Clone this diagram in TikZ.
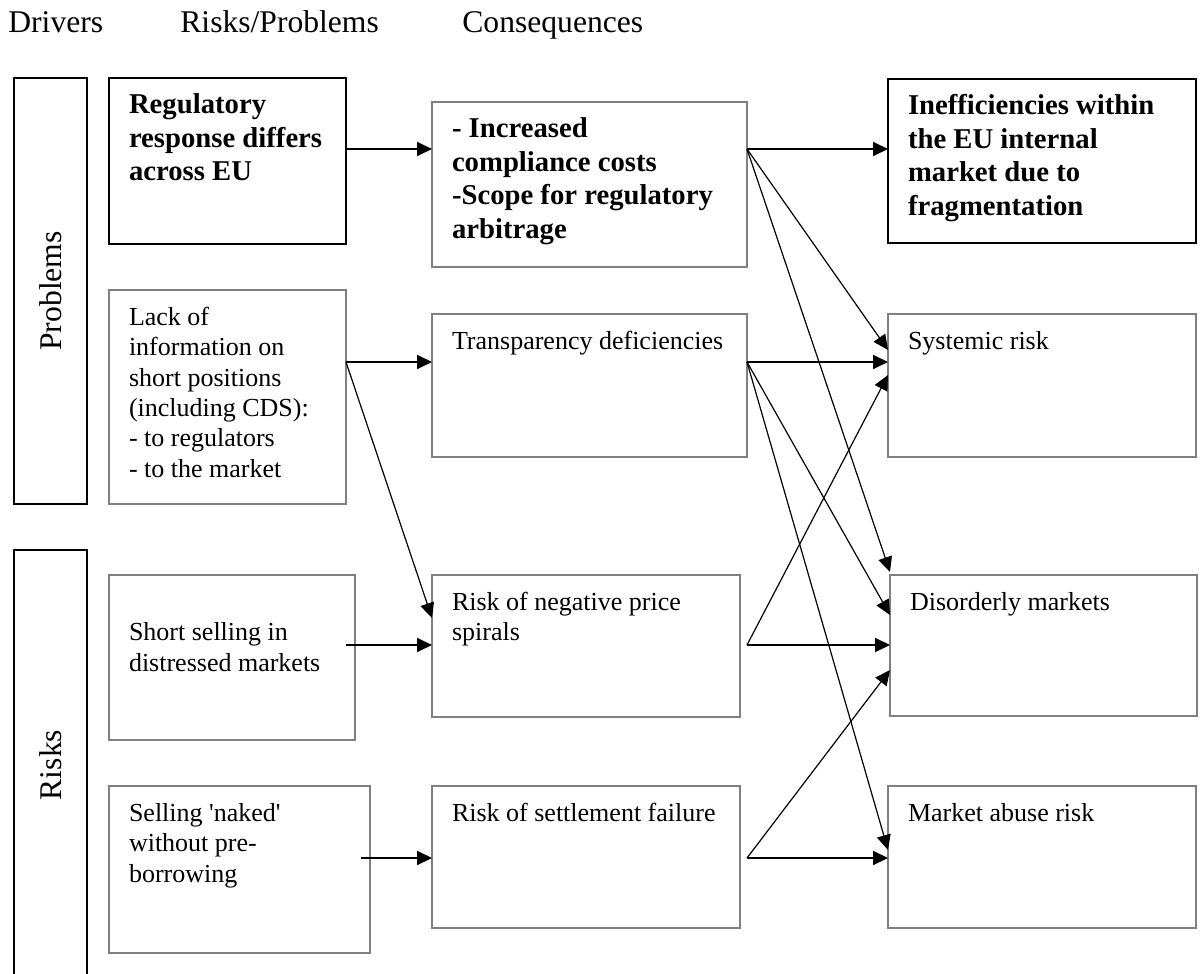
\documentclass[tikz,border=0pt]{standalone}
\usepackage{fontspec}
\setmainfont{Liberation Serif}
\usetikzlibrary{arrows.meta}
\definecolor{boxgray}{RGB}{128,128,128}
\newcommand{\bodyfont}{\fontsize{13}{15.2}\selectfont}
\newcommand{\boldfont}{\fontsize{14.35}{16.85}\selectfont\bfseries}
\newcommand{\headfont}{\fontsize{15.8}{19}\selectfont}
\newcommand{\boxtext}[3]{\parbox[t][#2][t]{#1}{\begin{tabular}[t]{@{}l@{}}#3\end{tabular}}}
\tikzset{
  cell/.style={draw=boxgray, line width=1pt, anchor=north west, outer sep=0pt,
    inner xsep=10pt, inner ysep=7pt, font=\bodyfont},
  boldcell/.style={cell, inner ysep=6pt, font=\boldfont},
  keycell/.style={boldcell, draw=black, line width=1.2pt},
  bar/.style={draw, line width=1.2pt, rotate=90, minimum height=36.5pt, inner sep=0pt, font=\headfont},
  head/.style={anchor=base west, inner sep=0pt, font=\headfont},
  link/.style={-{Triangle[length=7.5pt,width=7pt]}, line width=0.6pt},
  flow/.style={link, line width=1pt}
}

\begin{document}
\begin{tikzpicture}[x=0.5pt,y=-0.5pt]
\useasboundingbox (0,0) rectangle (1201,974);
\clip (0,0) rectangle (1201,974);
% column heads
\node[head] (hd) at (8,33) {Drivers};
\node[head] (hr) at (180,33) {Risks/Problems};
\node[head] (hc) at (462,33) {Consequences};
% side bars
\node[bar, minimum width=213pt] (pb) at (50.5,291) {Problems};
\node[bar, minimum width=215pt] (rb) at (50.5,765) {Risks};
% first row
\node[keycell] (d1) at (109,78) {\boxtext{98.5pt}{71pt}{Regulatory\\response differs\\across EU}};
\node[boldcell] (r1) at (432,102) {\boxtext{137.5pt}{70.5pt}{- Increased\\compliance costs\\-Scope for regulatory\\arbitrage}};
\node[keycell] (c1) at (888,79) {\boxtext{134pt}{70pt}{Inefficiencies within\\the EU internal\\market due to\\fragmentation}};
% second row
\node[cell] (d2) at (109,290) {\boxtext{98.5pt}{93pt}{Lack of\\information on\\short positions\\(including CDS):\\- to regulators\\- to the market}};
\node[cell] (r2) at (432,314) {\boxtext{137.5pt}{57.5pt}{Transparency deficiencies}};
\node[cell] (c2) at (888,314) {\boxtext{134pt}{57.5pt}{Systemic risk}};
% third row
\node[cell] (d3) at (109,575) {\boxtext{103pt}{68.5pt}{\\Short selling in\\distressed markets}};
\node[cell] (r3) at (432,575) {\boxtext{134pt}{57pt}{Risk of negative price\\spirals}};
\node[cell] (c3) at (890,575) {\boxtext{133.5pt}{56.5pt}{Disorderly markets}};
% fourth row
\node[cell] (d4) at (109,786) {\boxtext{110.5pt}{69.5pt}{Selling \textquotesingle naked\textquotesingle\\without pre-\\borrowing}};
\node[cell] (r4) at (432,786) {\boxtext{134pt}{57pt}{Risk of settlement failure}};
\node[cell] (c4) at (888,786) {\boxtext{134pt}{57pt}{Market abuse risk}};
% drivers to risks/problems
\draw[flow] ([yshift=-35.5pt]d1.north east) -- ([yshift=-23.5pt]r1.north west);
\draw[flow] ([yshift=-36pt]d2.north east) -- ([yshift=-24pt]r2.north west);
\draw[link] ([yshift=-36pt]d2.north east) -- ([yshift=-21.5pt]r3.north west);
\draw[flow] ([xshift=-4.5pt,yshift=-35pt]d3.north east) -- ([yshift=-35pt]r3.north west);
\draw[flow] ([xshift=-4.5pt,yshift=-36pt]d4.north east) -- ([yshift=-36pt]r4.north west);
% risks/problems to consequences
\draw[flow] ([yshift=-23.5pt]r1.north east) -- ([yshift=-35pt]c1.north west);
\draw[link] ([yshift=-23.5pt]r1.north east) -- ([yshift=-18pt]c2.north west);
\draw[link] ([yshift=-23.5pt]r1.north east) -- ([yshift=1.5pt]c3.north west);
\draw[flow] ([yshift=-24pt]r2.north east) -- ([yshift=-24pt]c2.north west);
\draw[link] ([yshift=-24pt]r2.north east) -- ([yshift=-20pt]c3.north west);
\draw[link] ([yshift=-24pt]r2.north east) -- ([yshift=-32pt]c4.north west);
\draw[flow] ([xshift=3.5pt,yshift=-35pt]r3.north east) -- ([yshift=-35pt]c3.north west);
\draw[link] ([xshift=3.5pt,yshift=-35pt]r3.north east) -- ([yshift=-30.5pt]c2.north west);
\draw[flow] ([xshift=3.5pt,yshift=-36pt]r4.north east) -- ([yshift=-36pt]c4.north west);
\draw[link] ([xshift=3.5pt,yshift=-36pt]r4.north east) -- ([yshift=-47.5pt]c3.north west);
\end{tikzpicture}
\end{document}
